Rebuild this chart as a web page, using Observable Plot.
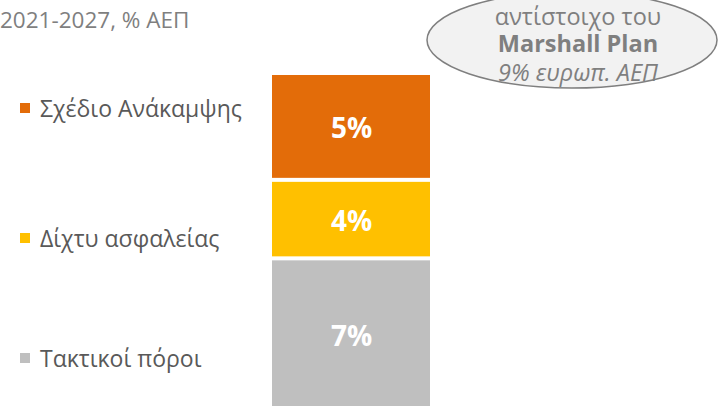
<!DOCTYPE html>
<html><head><meta charset="utf-8">
<script src="https://cdn.jsdelivr.net/npm/d3@7"></script>
<script src="https://cdn.jsdelivr.net/npm/@observablehq/plot@0.6"></script>
<style>
body{margin:0;background:#fff;}
#wrap{position:relative;width:720px;height:406px;overflow:hidden;font-family:"Open Sans",sans-serif;}
#wrap svg{position:absolute;left:0;top:0;}
</style></head>
<body><div id="wrap"></div>
<script>
const categories = ["Τακτικοί πόροι", "Δίχτυ ασφαλείας", "Σχέδιο Ανάκαμψης"];
const values = [7.0, 3.6, 4.9];
const colors = ["#BFBFBF", "#FFC000", "#E36C09"];
const title = "2021-2027, % ΑΕΠ";
const noteLines = ["αντίστοιχο του", "Marshall Plan", "9% ευρωπ. ΑΕΠ"];

const data = categories.map((c, i) => ({category: c, value: values[i], group: "ΕΕ"}));
const wrap = document.getElementById("wrap");

const chart = Plot.plot({
  width: 720, height: 406,
  margin: 0,
  x: {domain: ["ΕΕ"], range: [272, 430], padding: 0, axis: null},
  y: {domain: [0, 15.5], range: [411, 73], axis: null},
  color: {domain: categories, range: colors},
  style: {background: "transparent", fontFamily: "Open Sans"},
  marks: [
    Plot.barY(data, Plot.stackY({x: "group", y: "value", fill: "category", insetTop: 2, insetBottom: 2, order: null})),
    Plot.text(data, Plot.stackY({x: "group", y: "value", order: null,
      text: d => Math.round(d.value) + "%", fill: "white", fontSize: 28, fontWeight: "bold", dy: 2}))
  ]
});
wrap.appendChild(chart);

const svg = d3.select(wrap).append("svg").attr("width", 720).attr("height", 406)
  .style("font-family", "'Open Sans', sans-serif");

svg.append("text").attr("x", 0).attr("y", 28).attr("fill", "#7F7F7F")
  .attr("font-size", 22.5).text(title);

// legend (top to bottom = reverse stack order)
const legendY = [117, 247, 367];
categories.slice().reverse().forEach((c, i) => {
  const col = colors[categories.length - 1 - i];
  svg.append("rect").attr("x", 20).attr("y", legendY[i] - 14).attr("width", 10).attr("height", 10).attr("fill", col);
  svg.append("text").attr("x", 40).attr("y", legendY[i]).attr("fill", "#595959")
    .attr("font-size", 23).text(c);
});

// callout ellipse
svg.append("ellipse").attr("cx", 572).attr("cy", 40).attr("rx", 145).attr("ry", 48)
  .attr("fill", "#F2F2F2").attr("stroke", "#7F7F7F").attr("stroke-width", 1.5);
const ny = [25, 52, 81];
noteLines.forEach((t, i) => {
  svg.append("text").attr("x", 578).attr("y", ny[i]).attr("text-anchor", "middle")
    .attr("fill", "#7F7F7F").attr("font-size", 23.5)
    .attr("font-weight", i === 1 ? "bold" : "normal")
    .attr("font-style", i === 2 ? "italic" : "normal").text(t);
});
</script></body></html>
